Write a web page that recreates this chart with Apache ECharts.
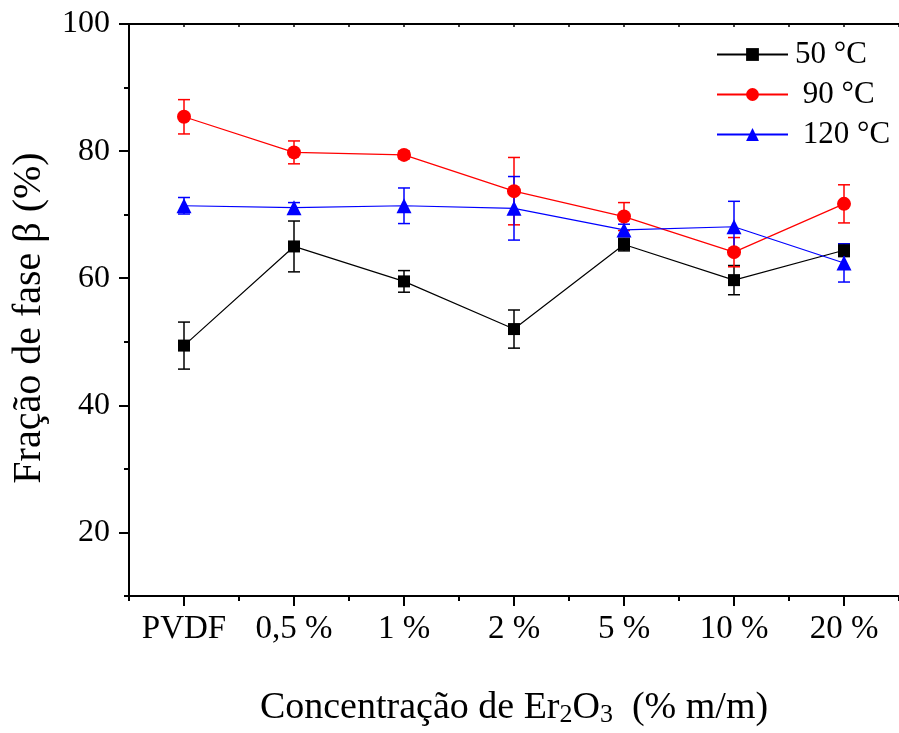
<!DOCTYPE html>
<html>
<head>
<meta charset="utf-8">
<script src="https://cdn.jsdelivr.net/npm/echarts@6/dist/echarts.min.js"></script>
<style>html,body{margin:0;padding:0;background:#fff}#c{width:899px;height:733px}</style>
</head>
<body>
<div id="c"></div>
<script>
const categories = ['PVDF', '0,5 %', '1 %', '2 %', '5 %', '10 %', '20 %'];
const yTicks = [20, 40, 60, 80, 100];
const seriesNames = ['50 °C', '90 °C', '120 °C'];
const s50 = [49.4, 65.0, 59.5, 52.0, 65.3, 59.7, 64.4];
const e50 = [3.7, 4.0, 1.7, 3.0, 1.0, 2.3, 1.0];
const s90 = [85.4, 79.8, 79.4, 73.7, 69.7, 64.1, 71.7];
const e90 = [2.7, 1.8, 0.6, 5.3, 2.2, 2.3, 3.0];
const s120 = [71.4, 71.1, 71.4, 71.0, 67.6, 68.1, 62.4];
const e120 = [1.3, 0.8, 2.8, 5.0, 0.9, 4.0, 3.0];

const FONT = 'Liberation Serif';
const catPos = categories.map((c, i) => i + 1);

function lineData(vals) { return vals.map((v, i) => [catPos[i], v]); }
function errData(vals, errs) { return vals.map((v, i) => [catPos[i], v, errs[i]]); }

function errSeries(vals, errs, color) {
  return {
    type: 'custom',
    xAxisIndex: 0, yAxisIndex: 0,
    z: 2,
    silent: true,
    encode: { x: 0, y: 1 },
    data: errData(vals, errs),
    renderItem: function (params, api) {
      const x = api.value(0), y = api.value(1), e = api.value(2);
      const t = api.coord([x, y + e]);
      const b = api.coord([x, y - e]);
      const hw = 6;
      const st = { stroke: color, lineWidth: 1.5 };
      return {
        type: 'group',
        children: [
          { type: 'line', shape: { x1: t[0], y1: t[1], x2: b[0], y2: b[1] }, style: st },
          { type: 'line', shape: { x1: t[0] - hw, y1: t[1], x2: t[0] + hw, y2: t[1] }, style: st },
          { type: 'line', shape: { x1: b[0] - hw, y1: b[1], x2: b[0] + hw, y2: b[1] }, style: st }
        ]
      };
    }
  };
}

function lineSeries(name, vals, color, symbol, size) {
  return {
    name: name, type: 'line', xAxisIndex: 0, yAxisIndex: 0, z: 3,
    data: lineData(vals), symbol: symbol, symbolSize: size,
    lineStyle: { color: color, width: 1.2 },
    itemStyle: { color: color },
    emphasis: { disabled: true }
  };
}

const chart = echarts.init(document.getElementById('c'), null, { renderer: 'canvas' });
chart.setOption({
  animation: false,
  backgroundColor: '#fff',
  grid: { left: 129, top: 24, bottom: 133, right: -3.5, containLabel: false },
  legend: {
    data: seriesNames,
    left: 711, top: 34, orient: 'vertical',
    itemWidth: 71, itemHeight: 16, itemGap: 9,
    formatter: n => n === seriesNames[0] ? n : ' ' + n,
    textStyle: { fontFamily: FONT, fontSize: 31, color: '#000', padding: [0, 0, 0, 2] }
  },
  xAxis: [
    {
      type: 'value', position: 'bottom', min: 0.5, max: 7.5, interval: 0.5,
      axisLine: { show: true, lineStyle: { color: '#000', width: 2 } },
      axisTick: { show: true, length: 5, lineStyle: { color: '#000', width: 2 } },
      axisLabel: { show: false },
      splitLine: { show: false },
      name: '{a|Concentração de Er}{s|2}{a|O}{s|3}{a|  (% m/m)}',
      nameLocation: 'middle', nameGap: 92,
      nameTextStyle: {
        rich: {
          a: { fontFamily: FONT, fontSize: 38, color: '#000', lineHeight: 40 },
          s: { fontFamily: FONT, fontSize: 26, color: '#000', lineHeight: 26, verticalAlign: 'bottom' }
        }
      }
    },
    {
      type: 'value', position: 'bottom', min: 0.5, max: 7.5,
      axisLine: { show: false },
      axisTick: { show: true, length: 10, customValues: catPos, lineStyle: { color: '#000', width: 2 } },
      axisLabel: {
        show: true, customValues: catPos, margin: 17,
        formatter: v => categories[Math.round(v) - 1] || '',
        fontFamily: FONT, fontSize: 33, color: '#000'
      },
      splitLine: { show: false }
    },
    {
      type: 'value', position: 'top', min: 0.5, max: 7.5, interval: 0.5,
      axisLine: { show: true, lineStyle: { color: '#000', width: 2 } },
      axisTick: { show: true, inside: true, length: 3, lineStyle: { color: '#000', width: 1.5 } },
      axisLabel: { show: false },
      splitLine: { show: false }
    }
  ],
  yAxis: [
    {
      type: 'value', position: 'left', min: 10, max: 100, interval: 10,
      axisLine: { show: true, lineStyle: { color: '#000', width: 2 } },
      axisTick: { show: true, length: 5, lineStyle: { color: '#000', width: 2 } },
      axisLabel: { show: false },
      splitLine: { show: false },
      name: 'Fração de fase β (%)',
      nameLocation: 'middle', nameRotate: 90, nameGap: 80,
      nameTextStyle: { fontFamily: FONT, fontSize: 40, color: '#000', padding: [0, 16, 0, 0] }
    },
    {
      type: 'value', position: 'left', min: 10, max: 100,
      axisLine: { show: false },
      axisTick: { show: true, length: 10, customValues: yTicks, lineStyle: { color: '#000', width: 2 } },
      axisLabel: {
        show: true, customValues: yTicks, margin: 19,
        fontFamily: FONT, fontSize: 32, color: '#000'
      },
      splitLine: { show: false }
    }
  ],
  series: [
    errSeries(s50, e50, '#000'),
    errSeries(s90, e90, '#ff0000'),
    errSeries(s120, e120, '#0000ff'),
    lineSeries(seriesNames[0], s50, '#000', 'rect', 12),
    lineSeries(seriesNames[1], s90, '#ff0000', 'circle', 14),
    lineSeries(seriesNames[2], s120, '#0000ff', 'triangle', 15)
  ]
});
</script>
</body>
</html>
